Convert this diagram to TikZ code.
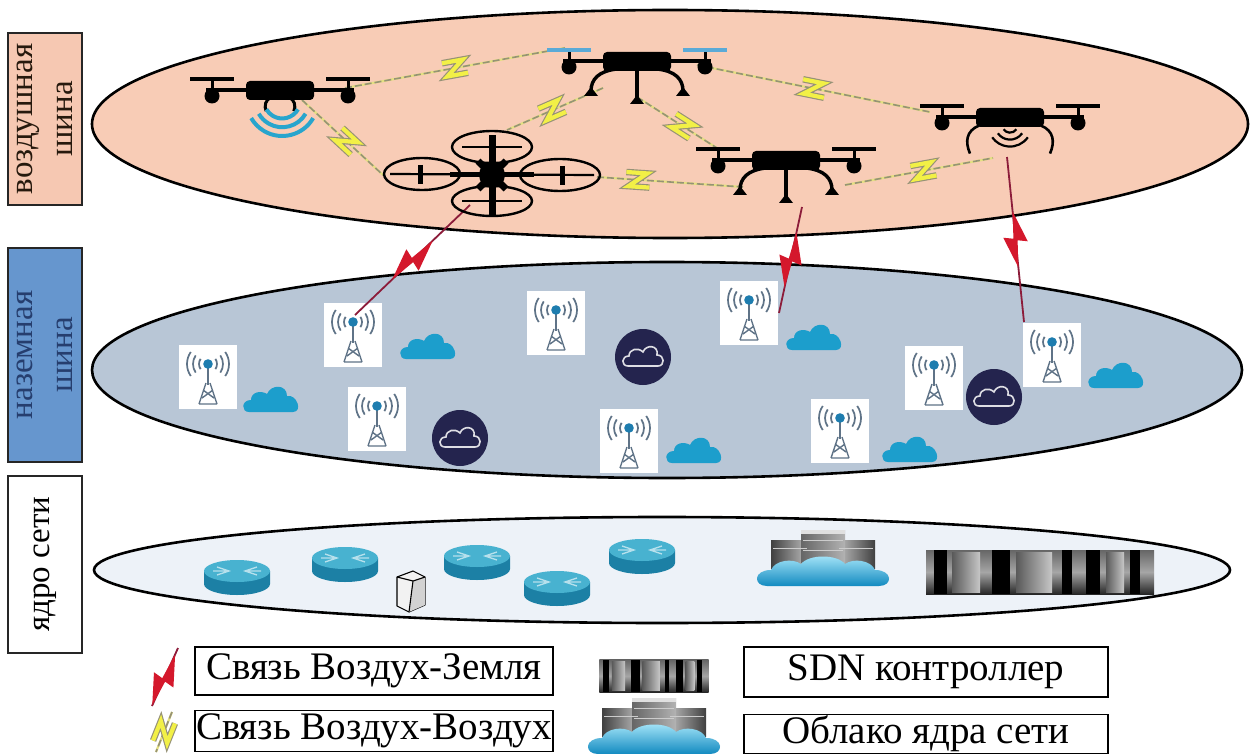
\documentclass[tikz,border=0pt]{standalone}
\usepackage{fontspec}
\setmainfont{Liberation Serif}
\newfontfamily\labelserif{Liberation Serif}
\usetikzlibrary{calc}

\definecolor{airfill}{RGB}{248,204,182}
\definecolor{groundfill}{RGB}{184,198,214}
\definecolor{corefill}{RGB}{237,242,248}
\definecolor{airbox}{RGB}{246,200,178}
\definecolor{groundbox}{RGB}{102,150,206}
\definecolor{groundtext}{RGB}{38,62,110}
\definecolor{skycloud}{RGB}{28,158,204}
\definecolor{navycloud}{RGB}{36,36,78}
\definecolor{boltred}{RGB}{212,24,44}
\definecolor{linkred}{RGB}{140,28,58}
\definecolor{boltyellow}{RGB}{242,240,70}
\definecolor{linkgray}{RGB}{150,146,118}
\definecolor{linkyellow}{RGB}{228,224,130}
\definecolor{wifiblue}{RGB}{40,165,205}
\definecolor{propblue}{RGB}{90,170,215}
\definecolor{mastgray}{RGB}{95,115,135}
\definecolor{masttop}{RGB}{30,125,175}
\definecolor{routertop}{RGB}{72,178,208}
\definecolor{routerside}{RGB}{28,128,165}

\tikzset{
  layer/.style={draw=black, line width=2.6},
  sidebox/.style={draw=black!85, line width=2, rotate=90, inner sep=0, align=center,
    minimum height=74, font=\labelserif\fontsize{33}{40}\selectfont},
  legendbox/.style={draw=black, line width=1.8, fill=white, inner sep=0,
    font=\labelserif\fontsize{39}{40}\selectfont},
  aaback/.style={draw=linkyellow, line width=2.2},
  aaline/.style={draw=linkgray, line width=1.6, dash pattern=on 7pt off 3pt},
  agline/.style={draw=linkred, line width=1.8},
  % yellow Z-shaped bolt for air-to-air links
  pics/zbolt/.style={code={
    \draw[linkgray, line width=6.5, line join=miter, miter limit=20]
      (-12,-7) -- (9,-7) -- (-9,7) -- (12,7);
    \draw[boltyellow, line width=4.2, line join=miter, miter limit=20]
      (-12,-7) -- (9,-7) -- (-9,7) -- (12,7);
  }},
  % red bolt for air-to-ground links
  pics/rbolt/.style={code={
    \fill[boltred] (-28,0) -- (3,-12) -- (1,-2) -- (28,0) -- (-3,12) -- (-1,2) -- cycle;
  }},
  % quadcopter seen from the side
  pics/sidedrone/.style={code={
    \draw[line width=3.4] (-74,0) -- (74,0);
    \foreach \s in {-1,1}{
      \draw[line width=3] (\s*68,-12) -- (\s*68,4);
      \fill (\s*68,6) circle (7.5);
      \draw[#1, line width=3.8] ({\s*68-22},-11) -- ({\s*68+22},-11);
    }
    \fill[rounded corners=4] (-34,-9) rectangle (34,10);
  }},
  pics/sidedrone/.default=black,
  pics/tripodlegs/.style={code={
    \draw[line width=3.4] (-20,8) .. controls (-38,10) and (-46,18) .. (-46,30);
    \draw[line width=3.4] (20,8) .. controls (38,10) and (46,18) .. (46,30);
    \draw[line width=3.8] (0,8) -- (0,38);
    \fill (-53,35) -- (-46,26) -- (-39,35) -- cycle;
    \fill (39,35) -- (46,26) -- (53,35) -- cycle;
    \fill (-7,43) -- (0,34) -- (7,43) -- cycle;
  }},
  % quadcopter seen from above
  pics/quadtop/.style={code={
    \draw[line width=2.4] (0,-28) ellipse [x radius=40, y radius=16];
    \draw[line width=2.4] (0,26) ellipse [x radius=40, y radius=15];
    \draw[line width=2.4] (-70,-1) ellipse [x radius=38, y radius=16];
    \draw[line width=2.4] (68,0) ellipse [x radius=40, y radius=16];
    \draw[line width=2.2] (-30,-28) -- (30,-28) (-30,26) -- (30,26);
    \draw[line width=2.2] (-102,-1) -- (102,0);
    \draw[line width=5] (-72,-10) -- (-72,9) (70,-9) -- (70,10);
    \draw[line width=7] (0,-40) -- (0,40);
    \draw[line width=5] (-42,0) -- (42,0);
    \draw[line width=7] (-14,-14) -- (14,14) (-14,14) -- (14,-14);
    \fill (0,0) circle (13);
  }},
  % radio tower tile
  pics/tower/.style={code={
    \fill[white] (-29,-32) rectangle (29,32);
    \foreach \r in {9,15,21}{
      \draw[mastgray, line width=1.7] (0,-13) ++(145:\r) arc[start angle=145, end angle=215, radius=\r];
      \draw[mastgray, line width=1.7] (0,-13) ++(-35:\r) arc[start angle=-35, end angle=35, radius=\r];
    }
    \draw[mastgray, line width=2.8] (0,-10) -- (0,8);
    \draw[mastgray, line width=1.4] (-2,6) -- (-9,27) (2,6) -- (9,27) (-9,27) -- (9,27)
      (-5,13) -- (6,21) (5,13) -- (-6,21);
    \fill[masttop] (0,-13) circle (4.8);
  }},
  pics/skycloud/.style={code={
    \fill[skycloud] (-24,12) .. controls (-32,12) and (-32,0) .. (-22,0)
      .. controls (-22,-8) and (-12,-10) .. (-6,-6)
      .. controls (-2,-16) and (14,-16) .. (14,-4)
      .. controls (24,-6) and (30,12) .. (20,12) -- cycle;
  }},
  pics/navycloud/.style={code={
    \fill[navycloud] (0,0) circle (28);
    \draw[white!85!navycloud, line width=1.6] (-15,9) .. controls (-22,9) and (-22,-1) .. (-14,-1)
      .. controls (-14,-8) and (-5,-10) .. (0,-5)
      .. controls (3,-13) and (16,-12) .. (14,-2)
      .. controls (22,-2) and (22,9) .. (15,9) -- cycle;
  }},
  pics/router/.style={code={
    \fill[routerside] (-33,0) -- (-33,13) arc[start angle=180, end angle=0, x radius=33, y radius=11] -- (33,0) -- cycle;
    \fill[routertop] (0,0) ellipse [x radius=33, y radius=11];
    \draw[white!60!routertop, line width=1.4] (-20,-4) -- (-8,0) -- (-20,4) (20,-4) -- (8,0) -- (20,4)
      (-24,0) -- (-8,0) (24,0) -- (8,0);
  }},
  pics/switchbox/.style={code={
    \draw[fill=gray!10, line width=1.1, line join=round] (-14,-14) -- (2,-20) -- (14,-14) -- (14,14) -- (-2,21) -- (-14,15) -- cycle;
    \fill[gray!35] (2,-10) -- (14,-14) -- (14,14) -- (-2,21) -- cycle;
    \draw[line width=1.1, line join=round] (-14,-14) -- (2,-10) -- (14,-14) (2,-10) -- (-2,21);
  }},
  pics/corecloud/.style={code={
    \shade[left color=black!75, right color=black!25] (-52,-22) rectangle (-14,6);
    \shade[left color=black!25, right color=black!75] (14,-22) rectangle (52,6);
    \shade[left color=black!60, right color=black!30] (-22,-32) rectangle (22,0);
    \fill[black!12] (-22,-32) rectangle (22,-28);
    \draw[black!20, line width=0.8] (-50,-14) -- (-16,-14) (16,-14) -- (50,-14) (-20,-22) -- (20,-22) (-20,-12) -- (20,-12);
    \shade[top color={rgb,255:red,170;green,232;blue,250}, bottom color={rgb,255:red,18;green,138;blue,192}]
      (-56,24) .. controls (-70,24) and (-70,8) .. (-52,8)
      .. controls (-48,-2) and (-30,-4) .. (-22,2)
      .. controls (-14,-8) and (14,-8) .. (22,2)
      .. controls (30,-4) and (48,-2) .. (52,8)
      .. controls (70,8) and (70,24) .. (56,24) -- cycle;
  }},
  pics/sdnrack/.style={code={
    \shade[top color=black!60, bottom color=black!85, middle color=black!35] (-114,-22) rectangle (114,22);
    \foreach \a/\b in {-88/-60, -24/12, 66/84}
      \shade[left color=black!65, right color=black!22] (\a,-20) rectangle (\b,20);
    \foreach \a/\b in {-106/-93, -48/-30, 22/32, 46/60, 90/100}
      \fill[black] (\a,-22) rectangle (\b,22);
  }},
}

% air-to-air link: dashed line with a yellow bolt
\newcommand\aalink[3]{%
  \draw[aaback] (#1) -- (#2);
  \draw[aaline] (#1) -- (#2);
  \path let \p1=($(#2)-(#1)$), \n1={atan2(\y1,\x1)} in
    pic[rotate=\n1] at ($(#1)!#3!(#2)$) {zbolt};
}
% air-to-ground link: dark red line with a red bolt
\newcommand\aglink[3]{%
  \draw[agline] (#1) -- (#2);
  \path let \p1=($(#2)-(#1)$), \n1={atan2(\y1,\x1)} in
    pic[rotate=\n1] at ($(#1)!#3!(#2)$) {rbolt};
}

\begin{document}
\begin{tikzpicture}[x=1pt, y=-1pt]
\useasboundingbox (0,0) rectangle (1255,754);
\fill[white] (0,0) rectangle (1255,754);

% ---- layers
\draw[layer, fill=airfill] (670,124) ellipse [x radius=578, y radius=114];
\draw[layer, fill=groundfill] (667,370) ellipse [x radius=575, y radius=108];
\draw[layer, fill=corefill] (662,570) ellipse [x radius=568, y radius=53];

% ---- layer labels
\node[sidebox, fill=airbox, minimum width=172, text=black!80!brown] (airlabel) at (45,119) {воздушная\\шина};
\node[sidebox, fill=groundbox, minimum width=214, text=groundtext] (groundlabel) at (45,355) {наземная\\шина};
\node[sidebox, fill=white, minimum width=177] (corelabel) at (45,564) {ядро сети};

% ---- ground layer: towers and clouds
\foreach \n/\p in {t1/{(208,377)}, t2/{(353,335)}, t3/{(377,419)}, t4/{(556,323)}, t5/{(629,441)},
                   t6/{(749,313)}, t7/{(840,431)}, t8/{(934,378)}, t9/{(1052,355)}}
  \pic (\n) at \p {tower};
\foreach \p in {(430,347), (273,400), (816,338), (696,451), (912,450), (1118,376)}
  \pic at \p {skycloud};
\foreach \p in {(643,357), (460,438), (994,397)}
  \pic at \p {navycloud};

% ---- core layer
\foreach \n/\p in {r1/{(237,571)}, r2/{(345,558)}, r3/{(477,556)}, r4/{(557,582)}, r5/{(642,550)}}
  \pic (\n) at \p {router};
\pic (sw) at (411,591) {switchbox};
\pic (cc) at (823,562) {corecloud};
\pic (sdn) at (1040,572) {sdnrack};

% ---- link end points
\coordinate (d1e) at (345,88);   \coordinate (d1s) at (302,100);
\coordinate (d2w) at (565,48);   \coordinate (d2sw) at (603,88);
\coordinate (d2s) at (637,97);   \coordinate (d2e) at (697,65);
\coordinate (d3w) at (383,175);  \coordinate (d3n) at (507,130);
\coordinate (d3e) at (597,177);  \coordinate (d3s) at (470,205);
\coordinate (d4n) at (720,150);  \coordinate (d4w) at (743,187);
\coordinate (d4e) at (845,185);  \coordinate (d4s) at (802,207);
\coordinate (d5w) at (930,112);  \coordinate (d5sw) at (993,158);
\coordinate (d5s) at (1007,157);
\coordinate (t2top) at (355,315);
\coordinate (t6top) at (779,313);
\coordinate (t9top) at (1024,322);

% ---- air-to-ground links
\aglink{d3s}{t2top}{0.5}
\aglink{d4s}{t6top}{0.5}
\aglink{d5s}{t9top}{0.5}

% ---- air-to-air links
\aalink{d1e}{d2w}{0.5}
\aalink{d1s}{d3w}{0.55}
\aalink{d2sw}{d3n}{0.53}
\aalink{d2s}{d4n}{0.55}
\aalink{d2e}{d5w}{0.5}
\aalink{d3e}{d4w}{0.28}
\aalink{d4e}{d5sw}{0.53}

% ---- drones
% drone 1 with its radio waves
\begin{scope}[shift={(280,90)}, scale=0.73]
  \pic (d1) {sidedrone};
  \draw[line width=3] (-12,10) .. controls (-20,13) and (-22,22) .. (-19,29);
  \draw[line width=3] (12,10) .. controls (20,13) and (22,22) .. (19,29);
  \foreach \r in {25,37,49}
    \draw[wifiblue, line width=4] (3,14) ++(30:\r) arc[start angle=30, end angle=150, radius=\r];
\end{scope}
% drone 2 with blue rotors
\begin{scope}[shift={(637,61)}, scale=0.69]
  \pic (d2) {sidedrone=propblue};
  \pic {tripodlegs};
\end{scope}
% drone 3 seen from above
\pic (d3) at (492,175) {quadtop};
% drone 4
\begin{scope}[shift={(786,160)}]
  \pic (d4) {sidedrone};
  \pic {tripodlegs};
\end{scope}
% drone 5 with its transmitter
\begin{scope}[shift={(1010,117)}, scale=0.87]
  \pic (d5) {sidedrone};
  \draw[line width=2.6] (-36,10) .. controls (-50,16) and (-52,28) .. (-46,42);
  \draw[line width=2.6] (36,10) .. controls (50,16) and (52,28) .. (46,42);
  \foreach \r in {9,17,25}
    \draw[line width=2.2] (0,9) ++(35:\r) arc[start angle=35, end angle=145, radius=\r];
\end{scope}

% ---- legend
\coordinate (lra) at (178,648);
\coordinate (lrb) at (152,706);
\aglink{lra}{lrb}{0.55}
\coordinate (lya) at (172,712);
\coordinate (lyb) at (156,752);
\aalink{lya}{lyb}{0.5}
\node[legendbox, minimum width=358, minimum height=48] (lag) at (374,671) {Связь Воздух-Земля};
\node[legendbox, minimum width=358, minimum height=41] (laa) at (374,731) {Связь Воздух-Воздух};
\pic[xscale=0.48, yscale=0.73] (lsdn) at (654,676) {sdnrack};
\begin{scope}[shift={(654,730)}, xscale=0.82, yscale=0.62]
  \pic (lcc) {corecloud};
\end{scope}
\node[legendbox, minimum width=364, minimum height=50] (lsdnt) at (926,672) {SDN контроллер};
\node[legendbox, minimum width=364, minimum height=39] (lcct) at (926,734) {Облако ядра сети};
\end{tikzpicture}
\end{document}
